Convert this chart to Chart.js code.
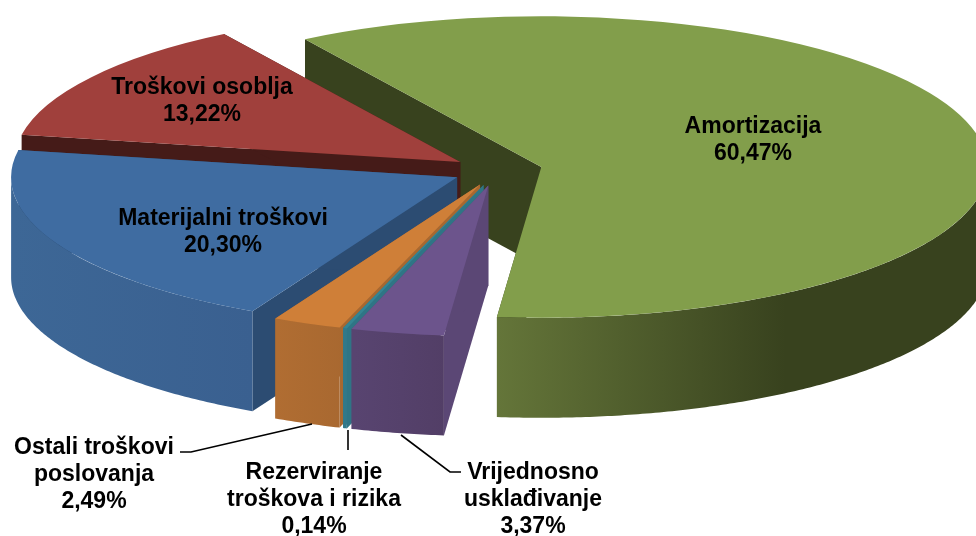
<!DOCTYPE html>
<html>
<head>
<meta charset="utf-8">
<style>html,body{margin:0;padding:0;background:#fff}canvas{display:block}</style>
<script src="https://cdn.jsdelivr.net/npm/chart.js@4"></script>
</head>
<body>
<canvas id="c" width="976" height="536"></canvas>
<script>
const categories = ["Amortizacija","Vrijednosno usklađivanje","Rezerviranje troškova i rizika","Ostali troškovi poslovanja","Materijalni troškovi","Troškovi osoblja"];
const values = [60.47,3.37,0.14,2.49,20.30,13.22];
const labelLines = [["Amortizacija"],["Vrijednosno","usklađivanje"],["Rezerviranje","troškova i rizika"],["Ostali troškovi","poslovanja"],["Materijalni troškovi"],["Troškovi osoblja"]];
const topColors = ["#829E4B","#6C548C","#358593","#CF7F38","#3F6CA1","#A0403C"];
const cutColors = ["#38421E","#5B4775","#2F7585","#A86830","#2C4C72","#451B18"];
const rimFrom = ["#647539","#584470","#31798A","#B06D32","#3D6796","#6A2A27"];
const rimTo = ["#38421E","#523E66","#31798A","#A86830","#3A6090","#6A2A27"];
const rimRange = [[499,785],[355,447],[346,354],[277,345],[12,253],[22,222]];
const labelPos = [[753,127],[533,473],[314,473],[94,448],[223,219],[202,88]];
const leaders = [[[180,452],[191,452],[312,424]],[[348,430],[348,450]],[[401,435],[450,472],[461,472]]];
const paintOrder = [0,5,4,3,2,1];
const flat = 0.338, depth = 100, explode = 45, lineGap = 27;

const pie3d = {
  id:'pie3d',
  beforeDatasetDraw(chart){
    const ctx = chart.ctx, arcs = chart.getDatasetMeta(0).data;
    paintOrder.forEach(i=>{
      const el = arcs[i], mid=(el.startAngle+el.endAngle)/2;
      const ex=Math.cos(mid)*explode, ey=Math.sin(mid)*explode;
      const P=(a)=>[el.x+ex+el.outerRadius*Math.cos(a), el.y+flat*(ey+el.outerRadius*Math.sin(a))];
      const A=[el.x+ex, el.y+flat*ey];
      // radial cut faces
      ctx.fillStyle=cutColors[i];
      [el.startAngle,el.endAngle].forEach(a=>{
        const p=P(a);
        ctx.beginPath();ctx.moveTo(A[0],A[1]);ctx.lineTo(p[0],p[1]);ctx.lineTo(p[0],p[1]+depth);ctx.lineTo(A[0],A[1]+depth);ctx.closePath();ctx.fill();
      });
      // outer rim wall: only the part facing the viewer
      const g=ctx.createLinearGradient(rimRange[i][0],0,rimRange[i][1],0);
      g.addColorStop(0,rimFrom[i]);g.addColorStop(1,rimTo[i]);
      ctx.fillStyle=g;
      const T=Math.PI*2;
      let lo=el.startAngle, hi=el.endAngle;
      const turn=Math.ceil(-lo/T-1e-9)*T; lo+=turn; hi+=turn; // lo in [0,2pi)
      const spans=[];
      if(lo<Math.PI) spans.push([lo,Math.min(hi,Math.PI)]);
      if(hi>T) spans.push([T,Math.min(hi,T+Math.PI)]);
      spans.forEach(([s,e])=>{
        const n=Math.max(4,Math.ceil((e-s)/0.01));
        ctx.beginPath();
        for(let k=0;k<=n;k++){const p=P(s+(e-s)*k/n);k?ctx.lineTo(p[0],p[1]):ctx.moveTo(p[0],p[1]);}
        for(let k=n;k>=0;k--){const p=P(s+(e-s)*k/n);ctx.lineTo(p[0],p[1]+depth);}
        ctx.closePath();ctx.fill();
      });
      // top face: the library's own arc, flattened and pulled out
      ctx.save();
      ctx.translate(0,el.y);ctx.scale(1,flat);ctx.translate(0,-el.y);
      ctx.translate(ex,ey);
      el.draw(ctx);
      ctx.restore();
    });
    return false;
  },
  afterDraw(chart){
    const ctx=chart.ctx;
    ctx.save();
    ctx.strokeStyle='#000';ctx.lineWidth=1.6;
    leaders.forEach(l=>{ctx.beginPath();l.forEach((p,k)=>k?ctx.lineTo(p[0],p[1]):ctx.moveTo(p[0],p[1]));ctx.stroke();});
    ctx.fillStyle='#000';ctx.font='bold 23px "Liberation Sans", Arial, sans-serif';
    ctx.textAlign='center';ctx.textBaseline='middle';
    categories.forEach((c,i)=>{
      const lines=labelLines[i].concat([values[i].toFixed(2).replace('.',',')+'%']);
      lines.forEach((t,k)=>ctx.fillText(t,labelPos[i][0],labelPos[i][1]+k*lineGap));
    });
    ctx.restore();
  }
};

new Chart(document.getElementById('c'),{
  type:'pie',
  data:{labels:categories,datasets:[{data:values,backgroundColor:topColors,borderWidth:0,radius:446}]},
  options:{
    responsive:false,animation:false,rotation:328,
    layout:{padding:{left:19,bottom:195}},
    plugins:{legend:{display:false},tooltip:{enabled:false},title:{display:false}}
  },
  plugins:[pie3d]
});
</script>
</body>
</html>
